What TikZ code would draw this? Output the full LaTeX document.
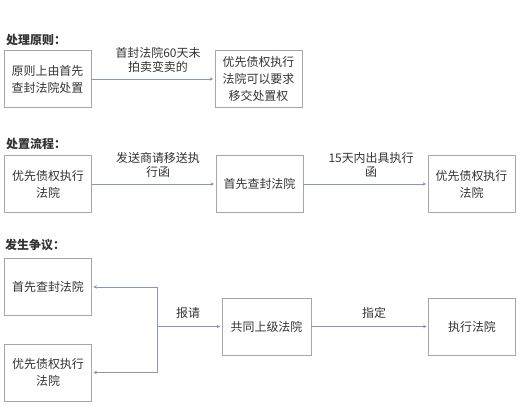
\documentclass[tikz,border=0pt]{standalone}
\usepackage{fontspec}
\setmainfont{Noto Sans CJK SC}
\usetikzlibrary{arrows.meta}
\definecolor{boxline}{HTML}{A6A6A6}
\definecolor{arrline}{HTML}{8797B4}
\definecolor{txt}{HTML}{333333}
\tikzset{
  box/.style={draw=boxline, line width=0.8pt, rectangle, minimum width=87bp, minimum height=57bp,
    align=center, inner sep=2pt, text=txt, font=\fontsize{12}{17}\selectfont},
  conn/.style={draw=arrline, line width=0.8pt, -{Stealth[length=3.5pt,width=3.5pt]}, shorten >=1.5pt},
  plain/.style={draw=arrline, line width=0.8pt},
  lab/.style={align=center, text=txt, font=\fontsize{12}{13.5}\selectfont, inner sep=0pt},
  title/.style={anchor=west, text=txt, font=\fontsize{12}{14}\selectfont\bfseries, inner sep=0pt}
}
\begin{document}
\begin{tikzpicture}[x=1bp,y=-1bp]
\useasboundingbox (0,0) rectangle (521,416);
% section 1
\node[title] (t1) at (6,40) {处理原则：};
\node[box] (a1) at (47.5,79) {原则上由首先\\查封法院处置};
\node[box] (a2) at (258.5,79) {优先债权执行\\法院可以要求\\移交处置权};
\draw[conn] (a1) -- (a2);
\node[lab] (la) at (158,60) {首封法院60天未\\拍卖变卖的};
% section 2
\node[title] (t2) at (6,144) {处置流程：};
\node[box] (b1) at (48,184) {优先债权执行\\法院};
\node[box] (b2) at (259.5,184) {首先查封法院};
\node[box] (b3) at (471.5,184) {优先债权执行\\法院};
\draw[conn] (b1) -- (b2);
\draw[conn] (b2) -- (b3);
\node[lab] (lb1) at (158,165) {发送商请移送执\\行函};
\node[lab] (lb2) at (371,165) {15天内出具执行\\函};
% section 3
\node[title] (t3) at (5,245) {发生争议：};
\node[box] (c1) at (48,287) {首先查封法院};
\node[box] (c2) at (48,372.5) {优先债权执行\\法院};
\node[box, minimum width=89bp] (c3) at (266.5,326.5) {共同上级法院};
\node[box] (c4) at (472,326.5) {执行法院};
\coordinate (vt) at (157,287);
\coordinate (vb) at (157,372.5);
\coordinate (vm) at (157,326.5);
\draw[plain] (vt) -- (vb);
\draw[conn] (vt) -- (c1);
\draw[conn] (vb) -- (c2);
\draw[conn] (vm) -- (c3);
\draw[conn] (c3) -- (c4);
\node[lab] (lc1) at (188,313) {报请};
\node[lab] (lc2) at (374,313) {指定};
\end{tikzpicture}
\end{document}
